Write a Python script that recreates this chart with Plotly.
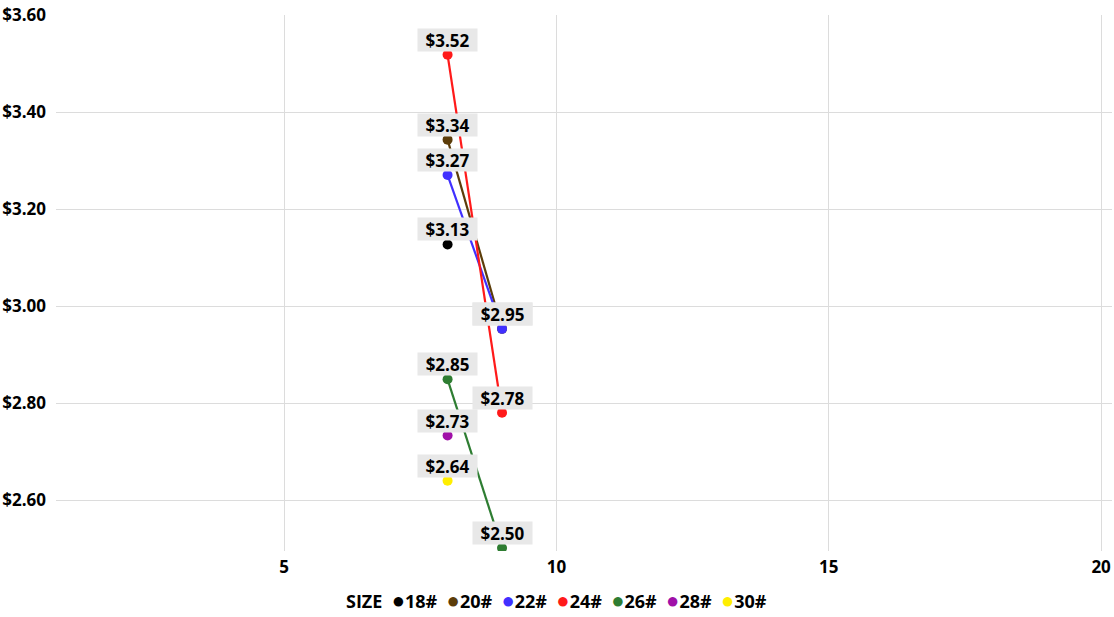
import plotly.graph_objects as go

sizes = ["18#", "20#", "22#", "24#", "26#", "28#", "30#"]
colors = ["#000000", "#5c3d0a", "#4030ff", "#ff1a1a", "#2e7d32", "#a010a8", "#ffee00"]
x_vals = {
    "18#": [8],
    "20#": [8, 9],
    "22#": [8, 9],
    "24#": [8, 9],
    "26#": [8, 9],
    "28#": [8],
    "30#": [8],
}
prices = {
    "18#": [3.127],
    "20#": [3.343, 2.953],
    "22#": [3.270, 2.953],
    "24#": [3.518, 2.780],
    "26#": [2.849, 2.501],
    "28#": [2.733],
    "30#": [2.640],
}
y_ticks = [2.6, 2.8, 3.0, 3.2, 3.4, 3.6]
x_ticks = [5, 10, 15, 20]
legend_title = "SIZE"

FONT = "Open Sans"
FS = 17
fig = go.Figure()
annotations = []
for s, c in zip(sizes, colors):
    xs, ys = x_vals[s], prices[s]
    mode = "lines+markers" if len(xs) > 1 else "markers"
    fig.add_trace(go.Scatter(x=xs, y=ys, mode=mode, line=dict(color=c, width=2.2),
                             marker=dict(color=c, size=10), name=s, showlegend=False))
    for xv, yv in zip(xs, ys):
        annotations.append(dict(x=xv, y=yv, text=f"${yv:.2f}", showarrow=False,
                                yshift=15, bgcolor="#e8e8e8", borderpad=1,
                                width=57, height=20,
                                font=dict(family=FONT, size=FS, color="#000000", weight="bold")))

# legend row (text built from the series names / colours)
legend_text = legend_title + "  " + "  ".join(
    f"<span style='color:{c};font-size:22px'>●</span>{s}" for s, c in zip(sizes, colors))
annotations.append(dict(xref="paper", yref="paper", x=(556 - 56) / 1056, y=-0.09,
                        xanchor="center", yanchor="middle", showarrow=False,
                        text=legend_text,
                        font=dict(family=FONT, size=18, color="#000000", weight="bold")))

fig.update_layout(
    width=1114, height=617,
    margin=dict(l=56, r=2, t=15, b=66),
    plot_bgcolor="white", paper_bgcolor="white",
    font=dict(family=FONT, size=FS, color="#000000", weight="bold"),
    annotations=annotations,
    showlegend=False,
    xaxis=dict(range=[0.81, 20.2], tickvals=x_ticks, showgrid=True, gridcolor="#dcdcdc",
               zeroline=False, showline=False, ticks="", automargin=False,
               ticklabelstandoff=4,
               tickfont=dict(family=FONT, size=FS, weight="bold")),
    yaxis=dict(range=[2.495, 3.6], tickvals=y_ticks, tickformat="$.2f", showgrid=True,
               gridcolor="#dcdcdc", zeroline=False, showline=False, ticks="",
               automargin=False, ticklabelstandoff=9,
               tickfont=dict(family=FONT, size=FS, weight="bold")),
)

fig.write_html("out.html", config={"displayModeBar": False},
               post_script="document.body.style.margin='0';")
